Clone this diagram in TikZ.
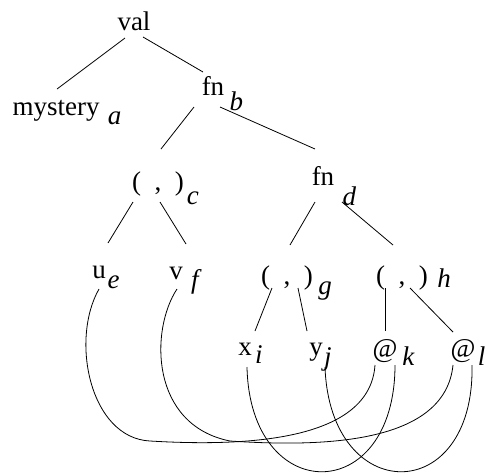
\documentclass[tikz,border=0pt]{standalone}
\usepackage{fontspec}
\setmainfont{Liberation Serif}
\usetikzlibrary{positioning}

\begin{document}
\begin{tikzpicture}[
    x=1pt, y=-1pt,
    term/.style={inner sep=0pt, anchor=base, font=\fontsize{27}{32}\selectfont},
    tag/.style={inner sep=0pt, font=\fontsize{27}{32}\selectfont\itshape},
    branch/.style={line width=0.8pt},
    bind/.style={line width=0.8pt}
]
    \useasboundingbox (0,0) rectangle (488,475);

    % tree nodes
    \node[term] (val) at (134,30) {val};
    \node[term] (mystery) at (56,115) {mystery};
    \node[term] (fnb) at (213,95) {fn};
    \node[term] (pairc) at (158,190) {(\hspace{0.5em},\hspace{0.5em})};
    \node[term] (fnd) at (323,185) {fn};
    \node[term] (u) at (99,278) {u};
    \node[term] (v) at (176,279) {v};
    \node[term] (pairg) at (287,284) {(\hspace{0.5em},\hspace{0.5em})};
    \node[term] (pairh) at (402,284) {(\hspace{0.5em},\hspace{0.5em})};
    \node[term] (x) at (245,355) {x};
    \node[term] (y) at (316,355) {y};
    \node[term] (appk) at (385,357) {@};
    \node[term] (appl) at (463,357) {@};

    % labels
    \node[tag, base right=8pt of mystery, yshift=-9pt] (a) {a};
    \node[tag, base right=5pt of fnb, yshift=-15pt] (b) {b};
    \node[tag, base right=2.5pt of pairc, yshift=-14pt] (c) {c};
    \node[tag, base right=8pt of fnd, yshift=-20pt] (d) {d};
    \node[tag, base right=1.5pt of u, yshift=-10pt] (e) {e};
    \node[tag, base right=8pt of v, yshift=-9pt] (f) {f};
    \node[tag, base right=5pt of pairg, yshift=-10pt] (g) {g};
    \node[tag, base right=9pt of pairh, yshift=-3pt] (h) {h};
    \node[tag, base right=3pt of x, yshift=-8pt] (i) {i};
    \node[tag, base right=1pt of y, yshift=-10pt] (j) {j};
    \node[tag, base right=4.5pt of appk, yshift=-8pt] (k) {k};
    \node[tag, base right=2pt of appl, yshift=-8pt] (l) {l};

    % branches
    \draw[branch] ([xshift=-9pt,yshift=-8pt]val.base) -- ([xshift=1pt,yshift=26pt]mystery.base);
    \draw[branch] ([xshift=9pt,yshift=-7pt]val.base) -- ([xshift=-10pt,yshift=23pt]fnb.base);
    \draw[branch] ([xshift=-19pt,yshift=-12pt]fnb.base) -- ([xshift=3pt,yshift=41pt]pairc.base);
    \draw[branch] ([xshift=7pt,yshift=-12pt]fnb.base) -- ([xshift=-8pt,yshift=36pt]fnd.base);
    \draw[branch] ([xshift=-25pt,yshift=-12pt]pairc.base) -- ([xshift=9pt,yshift=35pt]u.base);
    \draw[branch] ([xshift=2pt,yshift=-12pt]pairc.base) -- ([xshift=10pt,yshift=35pt]v.base);
    \draw[branch] ([xshift=-8pt,yshift=-17pt]fnd.base) -- ([xshift=3pt,yshift=39pt]pairg.base);
    \draw[branch] ([xshift=19pt,yshift=-17pt]fnd.base) -- ([xshift=-9pt,yshift=39pt]pairh.base);
    \draw[branch] ([xshift=-15pt,yshift=-4pt]pairg.base) -- ([xshift=10pt,yshift=24pt]x.base);
    \draw[branch] ([xshift=11pt,yshift=-4pt]pairg.base) -- ([xshift=-9pt,yshift=24pt]y.base);
    \draw[branch] ([xshift=-17pt,yshift=-4pt]pairh.base) -- ([yshift=26pt]appk.base);
    \draw[branch] ([xshift=8pt,yshift=-4pt]pairh.base) -- ([xshift=-10pt,yshift=25pt]appl.base);

    % bindings
    \draw[bind] ([yshift=-11pt]u.base) .. controls (70,340) and (90,438) .. (150,441)
        .. controls (250,447) and (370,440) .. ([xshift=-10pt,yshift=-8pt]appk.base);
    \draw[bind] ([xshift=1pt,yshift=-10pt]v.base) .. controls (150,330) and (150,425) .. (230,441)
        .. controls (320,447) and (445,445) .. ([xshift=-10pt,yshift=-8pt]appl.base);
    \draw[bind] ([xshift=2pt,yshift=-12pt]x.base) .. controls (250,507) and (395,507) .. ([xshift=10pt,yshift=-8pt]appk.base);
    \draw[bind] ([xshift=9pt,yshift=-12pt]y.base) .. controls (330,507) and (475,507) .. ([xshift=9pt,yshift=-8pt]appl.base);
\end{tikzpicture}
\end{document}
